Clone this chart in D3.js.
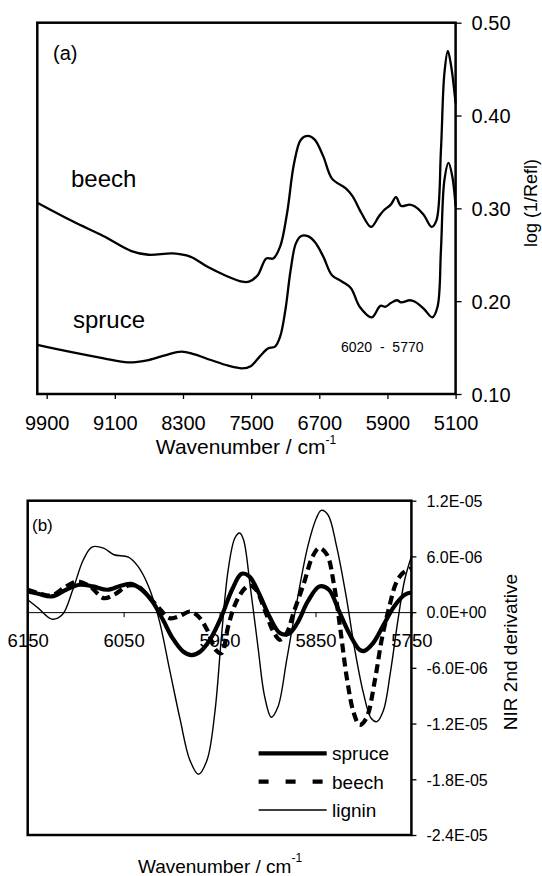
<!DOCTYPE html>
<html>
<head>
<meta charset="utf-8">
<script src="https://cdn.jsdelivr.net/npm/d3@7"></script>
<style>
  body { margin: 0; background: #fff; }
  text { font-family: "Liberation Sans", Arial, sans-serif; fill: #000; }
</style>
</head>
<body>
<script>
// panel (a): [wavenumber, log(1/R)]
const beechA = [[10010,0.306],[9595,0.286],[9230,0.270],[8905,0.254],[8703,0.250],[8418,0.2515],[8215,0.248],[8012,0.237],[7809,0.228],[7606,0.221],[7525,0.221],[7423,0.228],[7322,0.246],[7240,0.246],[7159,0.259],[7078,0.295],[6997,0.348],[6916,0.374],[6835,0.378],[6754,0.374],[6653,0.356],[6551,0.332],[6389,0.3215],[6308,0.313],[6206,0.295],[6092,0.280],[6003,0.291],[5942,0.298],[5861,0.304],[5800,0.312],[5739,0.3025],[5638,0.304],[5577,0.302],[5475,0.293],[5382,0.280],[5325,0.287],[5272,0.363],[5232,0.445],[5191,0.4695],[5151,0.4526],[5100,0.413]];
const spruceA = [[10010,0.153],[9636,0.1456],[9230,0.1384],[8946,0.134],[8703,0.1366],[8500,0.142],[8317,0.1456],[8175,0.143],[7972,0.1366],[7769,0.1305],[7606,0.1277],[7505,0.130],[7403,0.140],[7302,0.149],[7220,0.151],[7159,0.162],[7098,0.1905],[7037,0.233],[6976,0.262],[6916,0.270],[6835,0.270],[6754,0.264],[6653,0.248],[6551,0.228],[6430,0.221],[6328,0.214],[6226,0.194],[6084,0.1826],[5983,0.195],[5922,0.194],[5861,0.198],[5788,0.201],[5739,0.1987],[5638,0.201],[5577,0.1994],[5475,0.192],[5373,0.1826],[5312,0.194],[5272,0.255],[5232,0.330],[5183,0.349],[5138,0.334],[5100,0.302]];
const xTicksA = [9900, 9100, 8300, 7500, 6700, 5900, 5100];
const yTicksA = [0.10, 0.20, 0.30, 0.40, 0.50];

// panel (b): [wavenumber, 2nd derivative x 1e-6]
const spruceB = [[6150,2.23],[6139,1.98],[6125,1.69],[6110,2.41],[6096,2.95],[6082,2.77],[6067,2.41],[6053,2.84],[6042,3.05],[6031,2.41],[6020,1.15],[6009,-0.83],[5999,-2.80],[5988,-4.24],[5979,-4.63],[5970,-4.24],[5959,-2.80],[5948,-0.47],[5937,2.41],[5927,4.13],[5919,3.84],[5909,2.05],[5898,-0.47],[5887,-2.26],[5878,-2.34],[5869,-1.19],[5858,1.15],[5846,2.77],[5836,2.41],[5826,0.25],[5815,-2.26],[5804,-4.06],[5799,-4.17],[5790,-3.34],[5779,-1.37],[5768,0.61],[5757,1.87],[5750,2.12]];
const beechB = [[6150,2.41],[6139,2.05],[6125,1.80],[6110,2.77],[6098,3.31],[6085,2.77],[6071,1.51],[6060,1.87],[6045,2.87],[6035,2.77],[6024,1.69],[6013,0.43],[6002,-0.65],[5991,-0.40],[5981,0.07],[5972,-0.47],[5963,-1.90],[5954,-4.06],[5948,-4.42],[5941,-1.54],[5934,0.79],[5925,2.41],[5919,2.87],[5912,2.41],[5903,0.25],[5894,-2.08],[5887,-2.98],[5880,-2.26],[5873,-0.11],[5862,3.13],[5853,6.0],[5846,6.90],[5838,6.18],[5831,3.13],[5824,-1.90],[5817,-7.29],[5810,-10.89],[5804,-12.14],[5797,-11.43],[5788,-7.29],[5781,-2.98],[5773,0.61],[5766,3.13],[5759,4.20],[5750,4.74]];
const ligninB = [[6150,1.33],[6139,0.43],[6125,-0.75],[6114,-0.29],[6103,2.41],[6092,5.64],[6083,7.01],[6071,6.90],[6060,6.18],[6045,5.93],[6035,4.92],[6024,2.77],[6013,-0.83],[6002,-6.22],[5991,-11.61],[5981,-15.92],[5972,-17.46],[5963,-15.92],[5955,-10.89],[5948,-2.62],[5941,4.56],[5934,7.98],[5929,8.52],[5925,7.80],[5918,2.77],[5910,-3.70],[5903,-9.09],[5896,-11.32],[5889,-10.17],[5880,-5.14],[5869,1.33],[5858,7.08],[5849,10.13],[5844,10.96],[5837,10.49],[5828,7.08],[5818,1.69],[5809,-4.06],[5800,-8.73],[5792,-11.43],[5786,-11.79],[5779,-10.53],[5772,-6.58],[5764,-0.83],[5757,3.49],[5750,6.0]];
const xTicksB = [6150, 6050, 5950, 5850, 5750];
const yTicksB = [12, 6, 0, -6, -12, -18, -24];
const yLabelsB = ["1.2E-05", "6.0E-06", "0.0E+00", "-6.0E-06", "-1.2E-05", "-1.8E-05", "-2.4E-05"];
const legendNames = ["spruce", "beech", "lignin"];

const svg = d3.select("body").append("svg")
    .attr("width", 542)
    .attr("height", 876);

// ---------- panel (a) ----------
const xA = d3.scaleLinear().domain([10010, 5100]).range([37.3, 455.6]);
const yA = d3.scaleLinear().domain([0.10, 0.50]).range([394, 22.7]);

const lineA = d3.line()
    .x(d => xA(d[0]))
    .y(d => yA(d[1]))
    .curve(d3.curveCatmullRom.alpha(0.5));

[beechA, spruceA].forEach(s => {
    svg.append("path")
        .datum(s)
        .attr("fill", "none")
        .attr("stroke", "#000")
        .attr("stroke-width", 2.3)
        .attr("d", lineA);
});

svg.append("rect")
    .attr("x", 37.3).attr("y", 22.7)
    .attr("width", 455.6 - 37.3).attr("height", 394 - 22.7)
    .attr("fill", "none").attr("stroke", "#000").attr("stroke-width", 2.5);

const axA = svg.append("g")
    .attr("transform", "translate(0,394)")
    .call(d3.axisBottom(xA).tickValues(xTicksA).tickSize(5).tickSizeOuter(0).tickFormat(d3.format("d")));
axA.select(".domain").remove();
axA.selectAll("line").attr("stroke-width", 1.3);
axA.selectAll("text").attr("y", 36).attr("dy", 0)
    .style("font-size", "20px").style("font-family", "'Liberation Sans', Arial, sans-serif").attr("fill", "#000");

const ayA = svg.append("g")
    .attr("transform", "translate(455.6,0)")
    .call(d3.axisRight(yA).tickValues(yTicksA).tickSize(6).tickSizeOuter(0).tickFormat(d3.format(".2f")));
ayA.select(".domain").remove();
ayA.selectAll("line").attr("stroke-width", 1.3);
ayA.selectAll("text").attr("x", 16).attr("dy", "0.36em")
    .style("font-size", "20px").style("font-family", "'Liberation Sans', Arial, sans-serif").attr("fill", "#000");

svg.append("text").attr("x", 53).attr("y", 60).style("font-size", "20px").text("(a)");
svg.append("text").attr("x", 71).attr("y", 186.5).style("font-size", "24px").text("beech");
svg.append("text").attr("x", 73).attr("y", 328).style("font-size", "24px").text("spruce");
svg.append("text").attr("x", 341).attr("y", 351.5).style("font-size", "14px")
    .attr("xml:space", "preserve").style("white-space", "pre").text("6020  -  5770");

const tA = svg.append("text").attr("x", 246).attr("y", 454).attr("text-anchor", "middle").style("font-size", "21px");
tA.append("tspan").text("Wavenumber / cm");
tA.append("tspan").attr("dy", -10).style("font-size", "12px").text("-1");

svg.append("text")
    .attr("transform", "translate(531,203) rotate(-90)")
    .attr("text-anchor", "middle").attr("dy", "0.35em")
    .style("font-size", "18px").text("log (1/Refl)");

// ---------- panel (b) ----------
const xB = d3.scaleLinear().domain([6150, 5750]).range([27.7, 411.4]);
const yB = d3.scaleLinear().domain([-24, 12]).range([835, 500.7]);

const lineB = d3.line()
    .x(d => xB(d[0]))
    .y(d => yB(d[1]))
    .curve(d3.curveCatmullRom.alpha(0.5));

const styles = {
    spruce: { w: 4.2, dash: null },
    beech: { w: 4.2, dash: "9,5" },
    lignin: { w: 1.4, dash: null }
};

svg.append("path").datum(ligninB).attr("fill", "none").attr("stroke", "#000")
    .attr("stroke-width", styles.lignin.w).attr("d", lineB);
svg.append("path").datum(beechB).attr("fill", "none").attr("stroke", "#000")
    .attr("stroke-width", styles.beech.w).attr("stroke-dasharray", styles.beech.dash).attr("d", lineB);
svg.append("path").datum(spruceB).attr("fill", "none").attr("stroke", "#000")
    .attr("stroke-width", styles.spruce.w).attr("d", lineB);

const axB = svg.append("g")
    .attr("transform", `translate(0,${yB(0)})`)
    .call(d3.axisBottom(xB).tickValues(xTicksB).tickSize(5).tickSizeOuter(0).tickFormat(d3.format("d")));
axB.select(".domain").attr("stroke-width", 1);
axB.selectAll("text").attr("y", 646.7 - yB(0)).attr("dy", 0)
    .style("font-size", "18.5px").style("font-family", "'Liberation Sans', Arial, sans-serif").attr("fill", "#000");

svg.append("rect")
    .attr("x", 27.7).attr("y", 500.7)
    .attr("width", 411.4 - 27.7).attr("height", 835 - 500.7)
    .attr("fill", "none").attr("stroke", "#000").attr("stroke-width", 2.5);

const ayB = svg.append("g")
    .attr("transform", "translate(411.4,0)")
    .call(d3.axisRight(yB).tickValues(yTicksB).tickSize(5).tickSizeOuter(0)
        .tickFormat((d, i) => yLabelsB[i]));
ayB.select(".domain").remove();
ayB.selectAll("line").attr("stroke-width", 1.3);
ayB.selectAll("text").attr("x", 15).attr("dy", "0.36em")
    .style("font-size", "16px").style("font-family", "'Liberation Sans', Arial, sans-serif").attr("fill", "#000");

svg.append("text").attr("x", 32).attr("y", 531).style("font-size", "17px").text("(b)");

// legend
const legY = [753.3, 781.7, 810];
legendNames.forEach((name, i) => {
    const st = styles[name];
    svg.append("line")
        .attr("x1", 258.6).attr("x2", 326.7)
        .attr("y1", legY[i]).attr("y2", legY[i])
        .attr("stroke", "#000").attr("stroke-width", st.w)
        .attr("stroke-dasharray", st.dash ? "10,17" : null);
    svg.append("text").attr("x", 332).attr("y", legY[i] + 7)
        .style("font-size", "19px").text(name);
});

const tB = svg.append("text").attr("x", 220).attr("y", 873).attr("text-anchor", "middle").style("font-size", "19px");
tB.append("tspan").text("Wavenumber / cm");
tB.append("tspan").attr("dy", -11).style("font-size", "12px").text("-1");

svg.append("text")
    .attr("transform", "translate(510,652) rotate(-90)")
    .attr("text-anchor", "middle").attr("dy", "0.35em")
    .style("font-size", "19px").text("NIR 2nd derivative");
</script>
</body>
</html>
